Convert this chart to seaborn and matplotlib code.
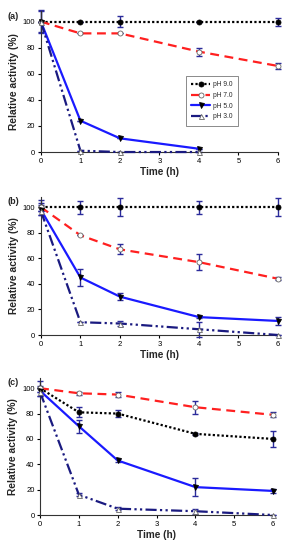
import numpy as np
import matplotlib
matplotlib.use("Agg")
import matplotlib.pyplot as plt
import seaborn as sns
from matplotlib.lines import Line2D

# ---- data ----
times = [0, 1, 2, 4, 6]
series_names = ["pH 9.0", "pH 7.0", "pH 5.0", "pH 3.0"]

# panel (a)
a_ph9 = [100, 100, 100, 100, 100]
a_ph9_err = [0, 0, 4, 0, 3]
a_ph7 = [100, 91, 91, 77, 66]
a_ph7_err = [9, 0, 0, 3, 2]
a_ph5 = [100, 24, 10.5, 2.5]
a_ph5_err = [8, 0, 0, 0]
a_ph3 = [100, 1, 0, 0]
a_ph3_err = [0, 0, 0, 0]

# panel (b)
b_ph9 = [100, 100, 100, 100, 100]
b_ph9_err = [3, 5, 7, 5, 7]
b_ph7 = [100, 78, 67, 57, 44]
b_ph7_err = [6, 0, 4, 6, 1]
b_ph5 = [98, 45, 30, 14, 11]
b_ph5_err = [4, 7, 3, 1, 3]
b_ph3 = [97, 10, 9, 4.5, 0]
b_ph3_err = [0, 0, 2, 6, 0]

# panel (c)
c_ph9 = [100, 81, 80, 64, 60]
c_ph9_err = [6, 4, 3, 1, 6]
c_ph7 = [100, 96, 95, 85, 79]
c_ph7_err = [0, 1, 2, 5, 2]
c_ph5 = [98, 70, 43, 22, 19]
c_ph5_err = [4, 5, 1, 7, 1.5]
c_ph3 = [97, 16, 5, 3, 0]
c_ph3_err = [0, 1, 1, 2, 0]

panel_labels = ["(a)", "(b)", "(c)"]
yticks = [0, 20, 40, 60, 80, 100]
xticks = [0, 1, 2, 3, 4, 5, 6]

panels = [
    [(a_ph9, a_ph9_err), (a_ph7, a_ph7_err), (a_ph5, a_ph5_err), (a_ph3, a_ph3_err)],
    [(b_ph9, b_ph9_err), (b_ph7, b_ph7_err), (b_ph5, b_ph5_err), (b_ph3, b_ph3_err)],
    [(c_ph9, c_ph9_err), (c_ph7, c_ph7_err), (c_ph5, c_ph5_err), (c_ph3, c_ph3_err)],
]

# ---- styles ----
ERR_COLOR = "#2b2b9b"
styles = [
    dict(color="black", linestyle=(0, (1, 1)), marker="o", markerfacecolor="black",
         markeredgecolor="black"),
    dict(color="#ff2020", linestyle=(0, (4, 2.5)), marker="o", markerfacecolor="white",
         markeredgecolor="#666666"),
    dict(color="#1a1aff", linestyle="-", marker="v", markerfacecolor="black",
         markeredgecolor="black"),
    dict(color="#1a1a80", linestyle=(0, (5, 1.5, 1, 1.5, 1, 1.5)), marker="^",
         markerfacecolor="white", markeredgecolor="#666666"),
]

sns.set_style("ticks")
plt.rcParams["font.family"] = ["Liberation Sans", "DejaVu Sans"]

fig = plt.figure(figsize=(2.86, 5.5), dpi=100)

boxes = [
    [0.143, 0.7236, 0.829, 0.256],
    [0.143, 0.3909, 0.829, 0.251],
    [0.140, 0.0636, 0.815, 0.249],
]
label_y = [0.978, 0.642, 0.313]

for p, (box, series) in enumerate(zip(boxes, panels)):
    ax = fig.add_axes(box)
    for (vals, errs), st in zip(series, styles):
        xs = times[:len(vals)]
        ax.errorbar(xs, vals, yerr=errs, fmt="none", ecolor=ERR_COLOR,
                    elinewidth=1.0, capsize=2.2, capthick=1.0, clip_on=False, zorder=2)
        sns.lineplot(x=xs, y=vals, ax=ax, sort=False, errorbar=None,
                     color=st["color"], linestyle=st["linestyle"], linewidth=1.6,
                     marker=st["marker"], markersize=3.6,
                     markerfacecolor=st["markerfacecolor"],
                     markeredgecolor=st["markeredgecolor"], markeredgewidth=0.6,
                     clip_on=False, zorder=3)
    ax.set_xlim(0, 6)
    ax.set_ylim(0, 108)
    ax.set_xticks(xticks)
    ax.set_yticks(yticks)
    ax.tick_params(labelsize=5.5, length=2.5, width=0.8, pad=1.5, colors="black")
    for s in ["top", "right"]:
        ax.spines[s].set_visible(False)
    for s in ["left", "bottom"]:
        ax.spines[s].set_linewidth(0.8)
        ax.spines[s].set_color("#333333")
    ax.set_xlabel("Time (h)", fontsize=7.2, fontweight="bold", labelpad=2)
    ax.set_ylabel("Relative activity (%)", fontsize=7.4, fontweight="bold", labelpad=3)
    fig.text(0.025, label_y[p], panel_labels[p], fontsize=6.5, fontweight="bold",
             va="top", ha="left")

    if p == 0:
        handles = [
            Line2D([], [], color=st["color"], linestyle=st["linestyle"], linewidth=1.6,
                   marker=st["marker"], markersize=3.6,
                   markerfacecolor=st["markerfacecolor"],
                   markeredgecolor=st["markeredgecolor"], markeredgewidth=0.6)
            for st in styles
        ]
        leg = ax.legend(handles, series_names, loc="upper left",
                        bbox_to_anchor=(0.612, 0.54), borderaxespad=0,
                        fontsize=4.8, frameon=True, fancybox=False,
                        handlelength=2.8, handletextpad=0.4, labelspacing=0.55,
                        borderpad=0.8)
        leg.get_frame().set_edgecolor("#555555")
        leg.get_frame().set_linewidth(0.6)

fig.savefig("out.png", dpi=100, facecolor="white")
